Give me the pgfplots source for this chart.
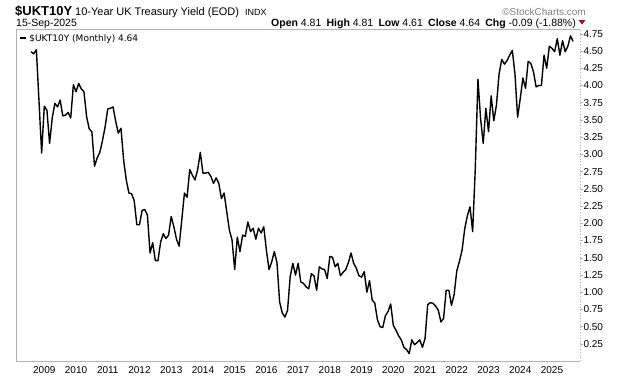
\documentclass[border=0pt]{standalone}
\usepackage{fontspec}
\setmainfont{Liberation Sans}
\newfontfamily\dejavu{DejaVu Sans}
\usepackage{pgfplots}
\usepackage{pgfplotstable}
\pgfplotsset{compat=1.18}
\definecolor{axgray}{HTML}{B4B4B4}
\definecolor{scgray}{HTML}{7F7F7F}
\definecolor{trired}{HTML}{99102E}
\pgfplotstableread{
m v
-5 4.49
-4 4.46
-3 4.52
-2 3.77
-1 3.02
0 3.70
1 3.64
2 3.16
3 3.53
4 3.74
5 3.69
6 3.79
7 3.56
8 3.57
9 3.61
10 3.53
11 4.01
12 3.91
13 4.03
14 3.95
15 3.91
16 3.55
17 3.37
18 3.33
19 2.83
20 2.95
21 3.03
22 3.20
23 3.40
24 3.66
25 3.67
26 3.69
27 3.48
28 3.31
29 3.38
30 2.92
31 2.63
32 2.44
33 2.43
34 2.33
35 1.98
36 1.98
37 2.19
38 2.20
39 2.12
40 1.57
41 1.72
42 1.46
43 1.46
44 1.73
45 1.85
46 1.78
47 1.83
48 2.10
49 1.95
50 1.77
51 1.67
52 2.05
53 2.44
54 2.38
55 2.78
56 2.70
57 2.63
58 2.78
59 3.03
60 2.73
61 2.73
62 2.74
63 2.68
64 2.58
65 2.66
66 2.58
67 2.36
68 2.44
69 2.17
70 1.90
71 1.76
72 1.33
73 1.80
74 1.59
75 1.83
76 1.81
77 2.02
78 1.88
79 1.93
80 1.77
81 1.93
82 1.86
83 1.95
84 1.61
85 1.33
86 1.44
87 1.59
88 1.43
89 0.86
90 0.70
91 0.64
92 0.74
93 1.23
94 1.42
95 1.25
96 1.42
97 1.15
98 1.13
99 1.08
100 1.05
101 1.27
102 1.24
103 1.03
104 1.37
105 1.34
106 1.33
107 1.20
108 1.52
109 1.51
110 1.37
111 1.42
112 1.24
113 1.29
114 1.33
115 1.43
116 1.57
117 1.42
118 1.35
119 1.24
120 1.22
121 1.30
122 1.00
123 1.17
124 0.89
125 0.84
126 0.60
127 0.50
128 0.49
129 0.66
130 0.72
131 0.83
132 0.52
133 0.45
134 0.37
135 0.31
136 0.20
137 0.17
138 0.11
139 0.31
140 0.24
141 0.27
142 0.31
143 0.20
144 0.33
145 0.82
146 0.85
147 0.84
148 0.80
149 0.74
150 0.57
151 0.62
152 1.03
153 1.03
154 0.81
155 0.97
156 1.31
157 1.45
158 1.61
159 1.92
160 2.11
161 2.24
162 1.88
163 2.80
164 4.09
165 3.52
166 3.16
167 3.67
168 3.33
169 3.85
170 3.49
171 3.72
172 4.17
173 4.38
174 4.31
175 4.36
176 4.44
177 4.51
178 4.17
179 3.54
180 3.81
181 4.11
182 3.96
183 4.35
184 4.32
185 4.20
186 3.98
187 4.00
188 4.00
189 4.44
190 4.25
191 4.57
192 4.54
193 4.49
194 4.68
195 4.44
196 4.65
197 4.49
198 4.57
199 4.72
200 4.64
}\ukt
\begin{document}
\begin{tikzpicture}
\useasboundingbox (0pt,0pt) rectangle (620pt,376pt);
% header
\node[anchor=base west, inner sep=0pt, font=\fontsize{13}{15}\selectfont\bfseries] at (15pt,361pt) {\$UKT10Y};
\node[anchor=base west, inner sep=0pt, font=\fontsize{11}{13}\selectfont] at (75pt,361pt) {10-Year UK Treasury Yield (EOD)};
\node[anchor=base west, inner sep=0pt, font=\fontsize{9}{11}\selectfont] at (245pt,361pt) {INDX};
\node[anchor=base east, inner sep=0pt, font=\fontsize{10}{12}\selectfont, text=scgray] at (586pt,361pt) {\textcopyright StockCharts.com};
\node[anchor=base west, inner sep=0pt, font=\fontsize{10.5}{12}\selectfont] at (16pt,350pt) {15-Sep-2025};
\node[anchor=base east, inner sep=0pt, font=\fontsize{10.5}{12}\selectfont] at (576pt,350pt) {{\bfseries Open} 4.81\enspace{\bfseries High} 4.81\enspace{\bfseries Low} 4.61\enspace{\bfseries Close} 4.64\enspace{\bfseries Chg} -0.09 (-1.88\%)};
\fill[trired] (578.5pt,356pt) -- (585.5pt,356pt) -- (582pt,351.5pt) -- cycle;
\begin{axis}[
  at={(16pt,15pt)}, anchor=south west,
  width=564pt, height=332pt, scale only axis,
  xmin=-10.7, xmax=202.6, ymin=0.003, ymax=4.82,
  axis line style={draw=none},
  clip mode=individual,
  ytick={0.25,0.5,...,4.76},
  ytick pos=right, yticklabel pos=right,
  tick align=outside,
  major tick length=3pt,
  ytick style={draw=axgray, line width=0.6pt},
  yticklabel style={/pgf/number format/fixed, /pgf/number format/fixed zerofill, /pgf/number format/precision=2, anchor=west, xshift=-3pt, font=\fontsize{10}{12}\selectfont},
  xtick={0,12,...,192},
  xticklabels={2009,2010,2011,2012,2013,2014,2015,2016,2017,2018,2019,2020,2021,2022,2023,2024,2025},
  xtick style={draw=none},
  xticklabel style={font=\fontsize{10}{12}\selectfont, yshift=1pt},
  /pgf/number format/assume math mode=true,
  legend style={at={(axis description cs:0,1)}, anchor=north west, draw=none, fill=none, font=\dejavu\fontsize{9}{11}\selectfont, inner sep=1pt, xshift=2pt, yshift=-2pt, legend cell align=left},
  legend image code/.code={\draw[line width=2.2pt] (0pt,0pt) -- (6pt,0pt);},
]
\draw[axgray, line width=0.8pt] (rel axis cs:1,0) -- (rel axis cs:0,0) -- (rel axis cs:0,1) -- (rel axis cs:1,1);
\draw[axgray, line width=0.8pt, dotted] (rel axis cs:1,0) -- (rel axis cs:1,1);
\addplot[black, line width=1.4pt, line join=round] table[x=m, y=v] {\ukt};
\addlegendentry{\$UKT10Y (Monthly) 4.64}
\end{axis}
\end{tikzpicture}
\end{document}
